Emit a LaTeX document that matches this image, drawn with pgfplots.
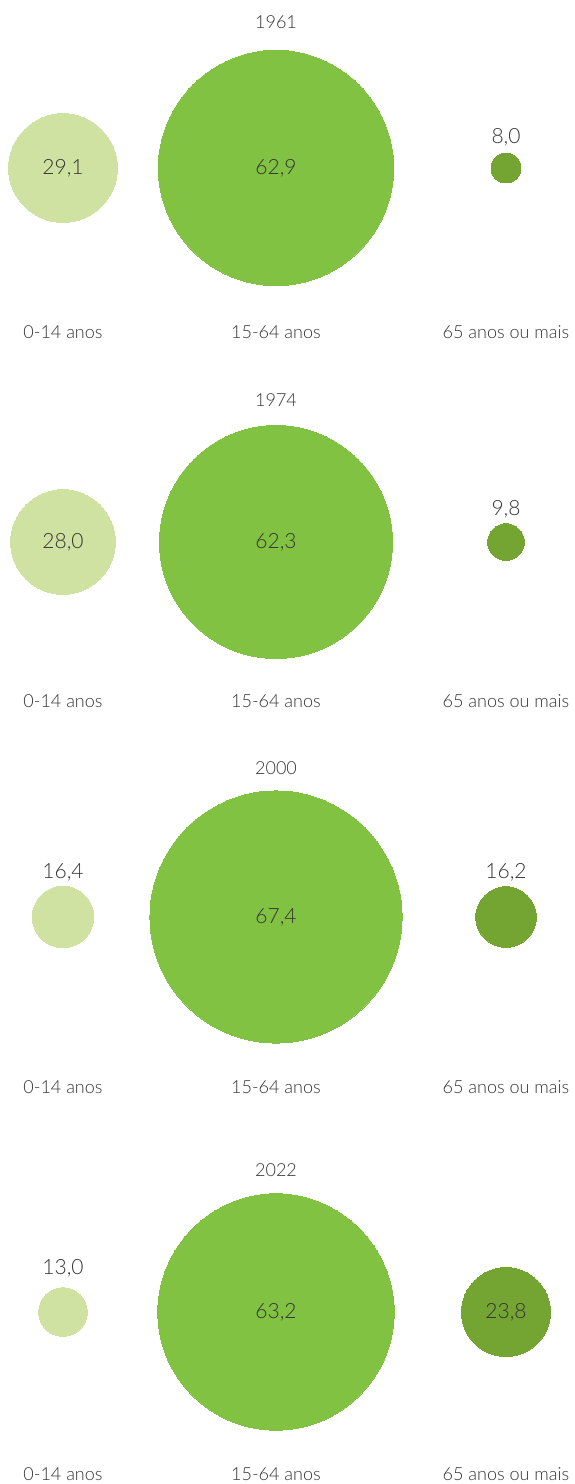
\documentclass[border=0pt]{standalone}
\usepackage{pgfplots}
\pgfplotsset{compat=1.18}
\usepackage{pgfplotstable}
\usepackage{fontspec}
\setmainfont{Lato}[UprightFont={* Light}]
\definecolor{cLight}{HTML}{D0E2A1}
\definecolor{cMid}{HTML}{82C242}
\definecolor{cDark}{HTML}{74A532}
\definecolor{cText}{HTML}{333333}
% x = centre (px), y = centre (px), v = value (%)
\pgfplotstableread{
x y v
63 168 29.1
63 542 28.0
63 917 16.4
63 1312 13.0
}\young
\pgfplotstableread{
x y v
276 168 62.9
276 542 62.3
276 917 67.4
276 1312 63.2
}\adult
\pgfplotstableread{
x y v
506 168 8.0
506 542 9.8
506 917 16.2
506 1312 23.8
}\old
\pgfplotstableread{
x y lab
63 168 {29,1}
276 168 {62,9}
506 137 {8,0}
63 542 {28,0}
276 542 {62,3}
506 509 {9,8}
63 872 {16,4}
276 917 {67,4}
506 872 {16,2}
63 1268 {13,0}
276 1312 {63,2}
506 1312 {23,8}
}\vals
\begin{document}
\begin{tikzpicture}[lbl/.style={font=\fontsize{18}{20}\selectfont, text=cText, anchor=center}]
\begin{axis}[
  width=574pt, height=1484pt, scale only axis,
  xmin=0, xmax=574, ymin=0, ymax=1484, y dir=reverse,
  hide axis, clip=false,
  bub/.style={scatter, only marks, mark=*,
    scatter/use mapped color={draw=#1, fill=#1},
    mark options={draw=#1, fill=#1, line width=0pt},
    visualization depends on={1.87*\thisrow{v} \as \rad},
    scatter/@pre marker code/.append style={/tikz/mark size=\rad}},
]
\path (rel axis cs:0,0) rectangle (rel axis cs:1,1);
\addplot[bub=cLight] table[x=x, y=y] {\young};
\addplot[bub=cMid] table[x=x, y=y] {\adult};
\addplot[bub=cDark] table[x=x, y=y] {\old};
\addplot[only marks, mark=none, point meta=explicit symbolic,
  nodes near coords, nodes near coords align={center},
  every node near coord/.append style={font=\fontsize{21}{23}\selectfont, text=cText, anchor=center}]
  table[x=x, y=y, meta=lab] {\vals};
\node[lbl] at (axis cs:276,22) {1961};
\node[lbl] at (axis cs:276,400) {1974};
\node[lbl] at (axis cs:276,768) {2000};
\node[lbl] at (axis cs:276,1170) {2022};
\node[lbl] at (axis cs:63,332) {0-14 anos};
\node[lbl] at (axis cs:276,332) {15-64 anos};
\node[lbl] at (axis cs:506,332) {65 anos ou mais};
\node[lbl] at (axis cs:63,701) {0-14 anos};
\node[lbl] at (axis cs:276,701) {15-64 anos};
\node[lbl] at (axis cs:506,701) {65 anos ou mais};
\node[lbl] at (axis cs:63,1087) {0-14 anos};
\node[lbl] at (axis cs:276,1087) {15-64 anos};
\node[lbl] at (axis cs:506,1087) {65 anos ou mais};
\node[lbl] at (axis cs:63,1474) {0-14 anos};
\node[lbl] at (axis cs:276,1474) {15-64 anos};
\node[lbl] at (axis cs:506,1474) {65 anos ou mais};
\end{axis}
\end{tikzpicture}
\end{document}
